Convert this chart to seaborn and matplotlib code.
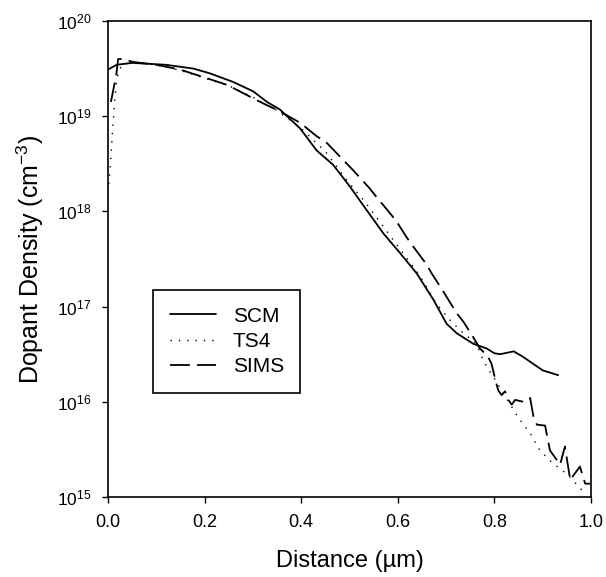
import numpy as np
import pandas as pd
import matplotlib
matplotlib.use("Agg")
import matplotlib.pyplot as plt
import matplotlib.ticker as mticker
import seaborn as sns

# ---- data (distance in um, log10 of dopant density in cm^-3) ----
scm_x = [0.000, 0.018, 0.050, 0.120, 0.177, 0.211, 0.259, 0.301, 0.329, 0.356,
         0.398, 0.432, 0.466, 0.501, 0.536, 0.570, 0.605, 0.639, 0.674, 0.701,
         0.722, 0.756, 0.784, 0.800, 0.812, 0.840, 0.860, 0.900, 0.932]
scm_log = [19.49, 19.54, 19.56, 19.54, 19.50, 19.45, 19.36, 19.26, 19.15, 19.07,
           18.87, 18.64, 18.49, 18.26, 18.01, 17.77, 17.56, 17.35, 17.07, 16.82,
           16.72, 16.61, 16.56, 16.51, 16.50, 16.53, 16.47, 16.33, 16.28]

ts4_x = [0.000, 0.003, 0.005, 0.007, 0.009, 0.011, 0.014, 0.018, 0.022, 0.030,
         0.060, 0.100, 0.150, 0.200, 0.250, 0.300, 0.350, 0.400, 0.450, 0.494,
         0.529, 0.570, 0.611, 0.645, 0.680, 0.708, 0.729, 0.763, 0.774, 0.784,
         0.798, 0.850, 0.874, 0.894, 0.922, 0.953, 0.974, 0.988]
ts4_log = [18.20, 18.36, 18.51, 18.64, 18.82, 18.96, 19.17, 19.38, 19.47, 19.55,
           19.56, 19.54, 19.48, 19.40, 19.32, 19.20, 19.06, 18.87, 18.63, 18.33,
           18.12, 17.84, 17.56, 17.33, 17.03, 16.86, 16.75, 16.61, 16.47, 16.37,
           16.26, 15.83, 15.67, 15.49, 15.35, 15.23, 15.11, 15.04]

sims_x = [0.006, 0.017, 0.021, 0.030, 0.052, 0.100, 0.149, 0.204, 0.246, 0.273,
          0.315, 0.356, 0.398, 0.432, 0.453, 0.487, 0.508, 0.542, 0.556, 0.584,
          0.598, 0.618, 0.632, 0.660, 0.670, 0.694, 0.705, 0.722, 0.736, 0.756,
          0.770, 0.786, 0.794, 0.803, 0.808, 0.815, 0.822, 0.829, 0.836, 0.843,
          0.860, 0.874, 0.881, 0.888, 0.905, 0.908, 0.915, 0.936, 0.946, 0.957,
          0.977, 0.988, 0.998]
sims_log = [19.15, 19.43, 19.60, 19.60, 19.57, 19.54, 19.49, 19.40, 19.33, 19.26,
            19.15, 19.05, 18.93, 18.79, 18.72, 18.54, 18.43, 18.24, 18.15, 17.98,
            17.89, 17.73, 17.63, 17.44, 17.35, 17.16, 17.07, 16.93, 16.84, 16.68,
            16.56, 16.48, 16.40, 16.21, 16.12, 16.07, 16.11, 16.02, 15.97, 16.02,
            16.00, 16.04, 15.84, 15.76, 15.75, 15.67, 15.49, 15.34, 15.53, 15.18,
            15.32, 15.14, 15.14]

labels = ["SCM", "TS4", "SIMS"]
x_ticks = [0.0, 0.2, 0.4, 0.6, 0.8, 1.0]
x_ticklabels = ["0.0", "0.2", "0.4", "0.6", "0.8", "1.0"]

# ---- style ----
sns.set_style("ticks")
plt.rcParams["font.family"] = ["Liberation Sans", "DejaVu Sans"]
plt.rcParams["mathtext.fontset"] = "custom"
plt.rcParams["mathtext.rm"] = "Liberation Sans"
plt.rcParams["mathtext.it"] = "Liberation Sans:italic"
plt.rcParams["mathtext.bf"] = "Liberation Sans:bold"
plt.rcParams["text.color"] = "black"
plt.rcParams["axes.labelcolor"] = "black"
plt.rcParams["xtick.color"] = "black"
plt.rcParams["ytick.color"] = "black"

fig = plt.figure(figsize=(6.06, 5.77), dpi=100)
ax = fig.add_axes([108/606, 80/577, 483/606, 476/577])

series = [
    (scm_x, scm_log, "-", 1.3),
    (ts4_x, ts4_log, (0, (1, 5)), 1.0),
    (sims_x, sims_log, (0, (11, 4)), 1.3),
]
for (xs, ls_log, ls, lw), lab in zip(series, labels):
    df = pd.DataFrame({"x": xs, "y": 10.0 ** np.array(ls_log)})
    sns.lineplot(data=df, x="x", y="y", ax=ax, color="black", linestyle=ls,
                 linewidth=lw, sort=False, label=lab)

ax.set_yscale("log")
ax.set_xlim(0, 1.0)
ax.set_ylim(1e15, 1e20)
ax.set_xticks(x_ticks)
ax.set_xticklabels(x_ticklabels)
ax.yaxis.set_major_locator(mticker.LogLocator(base=10, numticks=10))
ax.yaxis.set_major_formatter(mticker.LogFormatterMathtext())
ax.yaxis.set_minor_locator(mticker.NullLocator())

for sp in ax.spines.values():
    sp.set_visible(True)
    sp.set_linewidth(1.2)
    sp.set_color("black")

ax.tick_params(axis="both", which="major", direction="out", length=4,
               width=1.0, colors="black", labelcolor="black", labelsize=13)
ax.tick_params(axis="x", pad=8)
ax.tick_params(axis="y", labelsize=12.5, pad=8)

ax.set_xlabel("Distance (\u00b5m)", fontsize=17, labelpad=14, color="black")
ax.set_ylabel("Dopant Density (cm$^{-3}$)", fontsize=18, labelpad=8, color="black")

leg = ax.legend(loc="upper left", bbox_to_anchor=(0.094, 0.435),
                borderaxespad=0, frameon=True, fancybox=False,
                edgecolor="black", fontsize=15, handlelength=2.2,
                handletextpad=0.8, labelspacing=0.3, borderpad=0.8)
leg.get_frame().set_linewidth(1.2)
leg.get_frame().set_facecolor("white")
leg.get_frame().set_alpha(1.0)
for t in leg.get_texts():
    t.set_color("black")

fig.savefig("out.png", dpi=100)
